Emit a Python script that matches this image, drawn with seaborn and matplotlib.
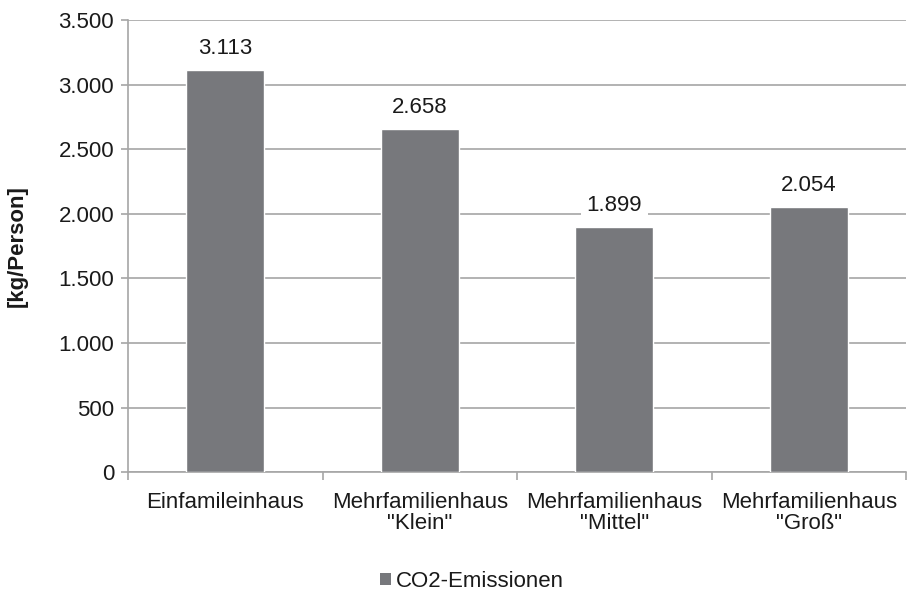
import matplotlib
matplotlib.use("Agg")
import matplotlib.pyplot as plt
import seaborn as sns
import pandas as pd
import numpy as np
from matplotlib.ticker import FuncFormatter, FixedLocator
from matplotlib.patches import Patch

categories = ['Einfamileinhaus', 'Mehrfamilienhaus\n"Klein"', 'Mehrfamilienhaus\n"Mittel"', 'Mehrfamilienhaus\n"Groß"']
values = [3113, 2658, 1899, 2054]
series_name = "CO2-Emissionen"
y_ticks = [0, 500, 1000, 1500, 2000, 2500, 3000, 3500]

sns.set_theme(style="white")
plt.rcParams['font.family'] = ['Liberation Sans', 'DejaVu Sans']

bar_color = "#77787c"
grid_color = "#a6a6a6"
text_color = "#1a1a1a"
fs = 16

df = pd.DataFrame({"Kategorie": categories, "Wert": values})

fig = plt.figure(figsize=(9.08, 5.91), dpi=100)
ax = fig.add_axes([0.141, 0.201, 0.857, 0.765])

sns.barplot(data=df, x="Kategorie", y="Wert", color=bar_color, width=0.4,
            saturation=1, ax=ax, zorder=3)

ax.set_ylim(0, 3500)
ax.set_xlim(-0.5, len(categories) - 0.5)
ax.yaxis.set_major_locator(FixedLocator(y_ticks))
ax.yaxis.set_major_formatter(FuncFormatter(lambda v, p: f"{int(v):,}".replace(",", ".")))
ax.grid(axis="y", color=grid_color, linewidth=1.2, zorder=0)
ax.set_axisbelow(True)

for s in ["top", "right"]:
    ax.spines[s].set_visible(False)
for s in ["left", "bottom"]:
    ax.spines[s].set_color(grid_color)
    ax.spines[s].set_linewidth(1.2)

ax.tick_params(axis="y", which="major", left=True, length=5, width=1.2,
               color=grid_color, labelsize=fs, labelcolor=text_color, pad=5)
ax.tick_params(axis="x", which="major", bottom=False, labelsize=fs,
               labelcolor=text_color, pad=8)
ax.xaxis.set_minor_locator(FixedLocator(np.arange(-0.5, len(categories), 1.0)))
ax.tick_params(axis="x", which="minor", bottom=True, length=6, width=1.2,
               color=grid_color)
for lbl in ax.get_xticklabels():
    lbl.set_linespacing(1.0)

ax.set_xlabel("")
ax.set_ylabel("[kg/Person]", fontsize=fs, fontweight="bold", color=text_color, labelpad=22)

for i, v in enumerate(values):
    ax.annotate(f"{v:,}".replace(",", "."), xy=(i, v), xytext=(0, 8),
                textcoords="offset points", ha="center", va="bottom",
                fontsize=fs, color=text_color, zorder=5,
                bbox=dict(boxstyle="square,pad=0.25", facecolor="white", edgecolor="none"))

handle = Patch(facecolor=bar_color, edgecolor="none")
fig.legend([handle], [series_name], loc="center", bbox_to_anchor=(0.52, 0.016),
           frameon=False, fontsize=fs, handlelength=0.5, handleheight=0.5,
           handletextpad=0.2, labelcolor=text_color)

fig.savefig("out.png", dpi=100)
